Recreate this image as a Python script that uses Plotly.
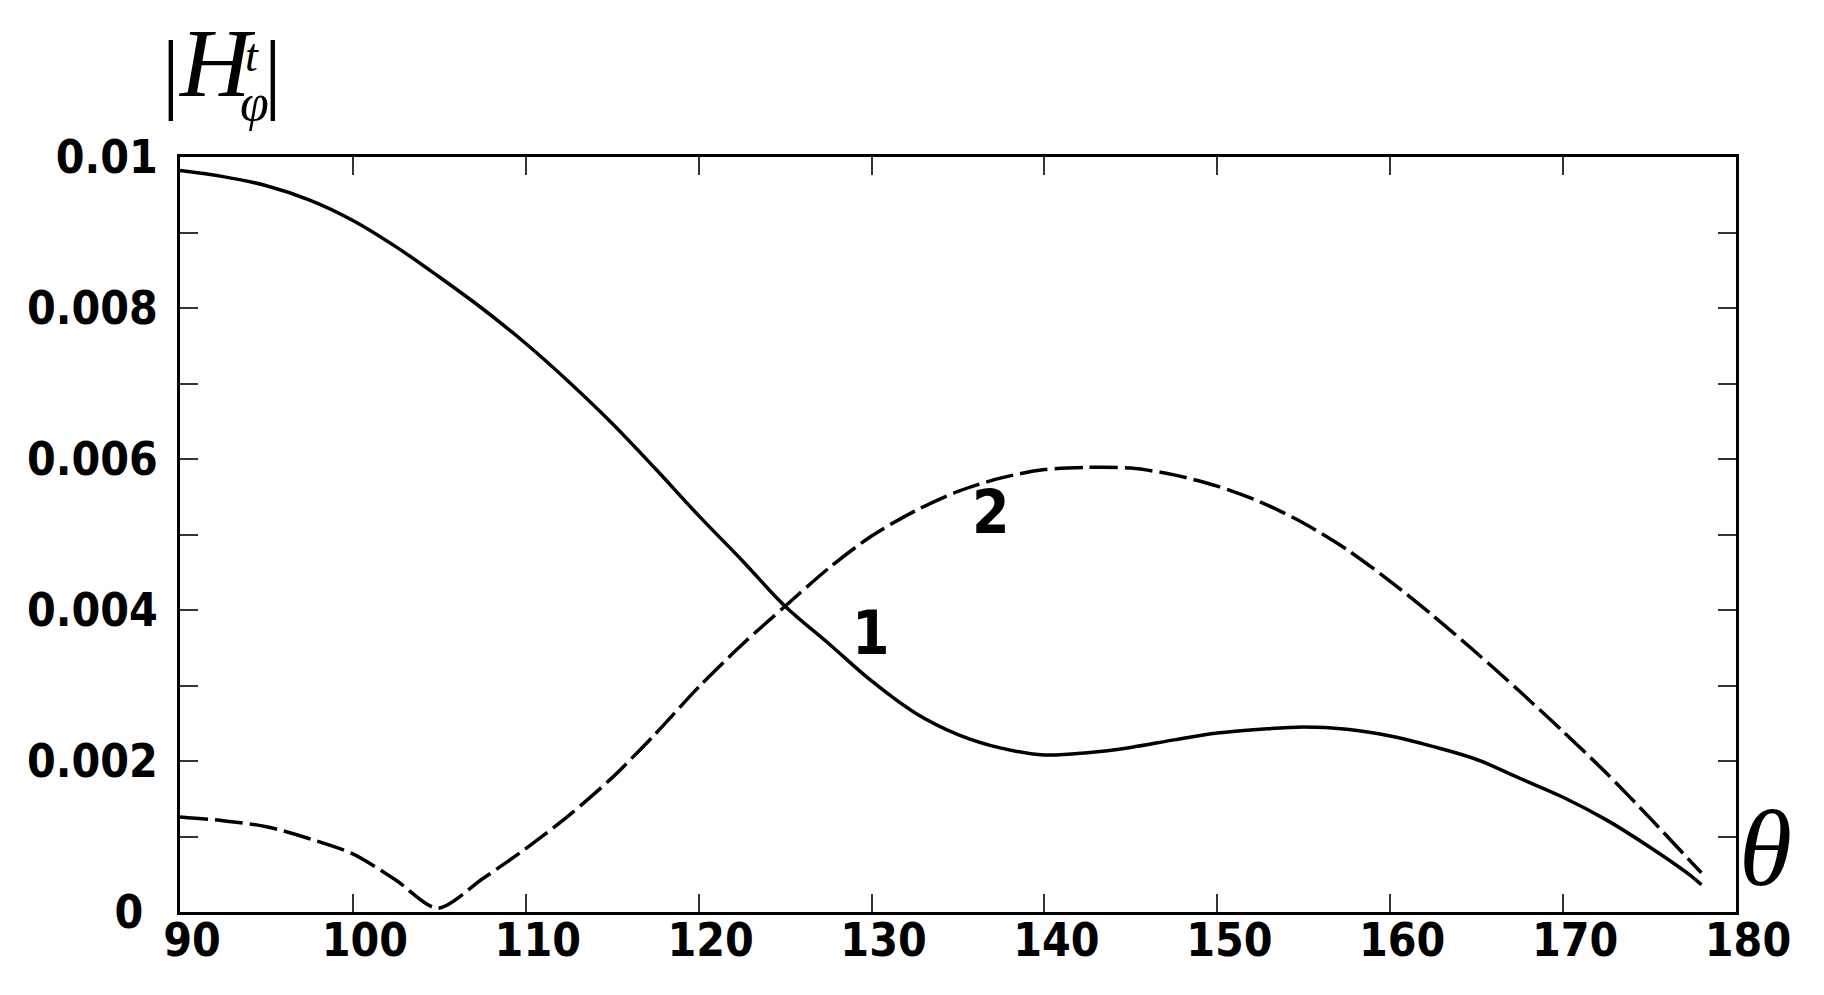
import plotly.graph_objects as go

# ---- data ----
theta1 = [90, 92.5, 95, 97.5, 100, 102.5, 105, 107.5, 110, 112.5, 115, 117.5, 120, 122.5,
          125, 127.5, 130, 132.5, 135, 137.5, 140, 142.5, 145, 147.5, 150, 152.5, 155,
          157.5, 160, 162.5, 165, 167.5, 170, 172.5, 175, 177.5, 178]
h1 = [0.00982, 0.00974, 0.00962, 0.00943, 0.00916, 0.00881, 0.00841, 0.00799, 0.00753,
      0.00702, 0.00647, 0.00587, 0.00525, 0.00466, 0.00405, 0.00356, 0.00306, 0.00264,
      0.00235, 0.00217, 0.00208, 0.00211, 0.00218, 0.00228, 0.00237, 0.00242, 0.00245,
      0.00242, 0.00233, 0.00219, 0.00202, 0.00177, 0.00152, 0.00122, 0.00086, 0.00046,
      0.00036]

theta2 = [90, 92.5, 95, 97.5, 100, 102.5, 104.9, 107.5, 110, 112.5, 115, 117.5, 120,
          122.5, 125, 127.5, 130, 132.5, 135, 137.5, 140, 142.5, 145, 147.5, 150, 152.5,
          155, 157.5, 160, 162.5, 165, 167.5, 170, 172.5, 175, 177.5, 178]
h2 = [0.00126, 0.00121, 0.00113, 0.00097, 0.00077, 0.00042, 0.00005, 0.00044, 0.00084,
      0.00128, 0.00178, 0.00236, 0.00298, 0.00354, 0.00405, 0.00455, 0.00498, 0.00531,
      0.00557, 0.00575, 0.00586, 0.00589, 0.00588, 0.00579, 0.00564, 0.00543, 0.00515,
      0.00480, 0.00438, 0.00392, 0.00343, 0.00292, 0.00239, 0.00184, 0.00125, 0.00064,
      0.00052]

x_ticks = [90, 100, 110, 120, 130, 140, 150, 160, 170, 180]
x_ticktext = ["90", "100", "110", "120", "130", "140", "150", "160", "170", "180"]
y_ticks = [0, 0.001, 0.002, 0.003, 0.004, 0.005, 0.006, 0.007, 0.008, 0.009, 0.01]
y_ticktext = ["0\u00a0", "", "0.002", "", "0.004", "", "0.006", "", "0.008", "", "0.01"]

curve_labels = ["1", "2"]
curve_label_x = [129.95, 136.9]
curve_label_y = [0.00369, 0.00530]

# ---- layout geometry ----
W, H = 1824, 995
L, R, T, B = 172, 96, 149, 91
PW, PH = W - L - R, H - T - B


def px(xpix):
    return (xpix - L) / PW


def py(ypix):
    return (H - B - ypix) / PH


SANS = "DejaVu Sans Condensed, DejaVu Sans"
TICKFONT = dict(family=SANS, size=46, color="black", weight="bold")
SERIF = "Liberation Serif, DejaVu Serif, serif"

fig = go.Figure()
fig.add_trace(go.Scatter(x=theta1, y=h1, mode="lines",
                         line=dict(color="black", width=3.5, shape="spline", smoothing=1),
                         showlegend=False))
fig.add_trace(go.Scatter(x=theta2, y=h2, mode="lines",
                         line=dict(color="black", width=3.5, dash="28px,7px",
                                   shape="spline", smoothing=0.8),
                         showlegend=False))

for t, xv, yv in zip(curve_labels, curve_label_x, curve_label_y):
    fig.add_annotation(x=xv, y=yv, xref="x", yref="y", text=t, showarrow=False,
                       font=dict(family=SANS, size=60, color="black", weight="bold"))


def title_piece(text, xpix, ypix, size):
    fig.add_annotation(x=px(xpix), y=py(ypix), xref="paper", yref="paper",
                       xanchor="center", yanchor="middle", text=text, showarrow=False,
                       font=dict(family=SERIF, size=size, color="black"))


# y-axis title |H_phi^t|
title_piece("|", 163, 65, 88)
title_piece("<i>H</i>", 209, 55, 98)
title_piece("<i>t</i>", 244, 47, 46)
title_piece("<i>φ</i>", 246, 95, 52)
title_piece("|", 265, 65, 88)
# x-axis title theta
title_piece("<i>θ</i>", 1757, 840, 108)

axis_common = dict(showline=True, linecolor="black", linewidth=3, mirror="ticks",
                   ticks="inside", ticklen=18, tickwidth=2, tickcolor="#333333",
                   showgrid=False, zeroline=False, tickfont=TICKFONT)

fig.update_xaxes(range=[90, 180], tickmode="array", tickvals=x_ticks,
                 ticktext=x_ticktext, ticklabelstandoff=-14, ticklabelshift=12,
                 **axis_common)
fig.update_yaxes(range=[0, 0.01], tickmode="array", tickvals=y_ticks,
                 ticktext=y_ticktext, ticklabelstandoff=10, **axis_common)

fig.update_layout(width=W, height=H, margin=dict(l=L, r=R, t=T, b=B),
                  paper_bgcolor="white", plot_bgcolor="white")

fig.write_html("out.html")
